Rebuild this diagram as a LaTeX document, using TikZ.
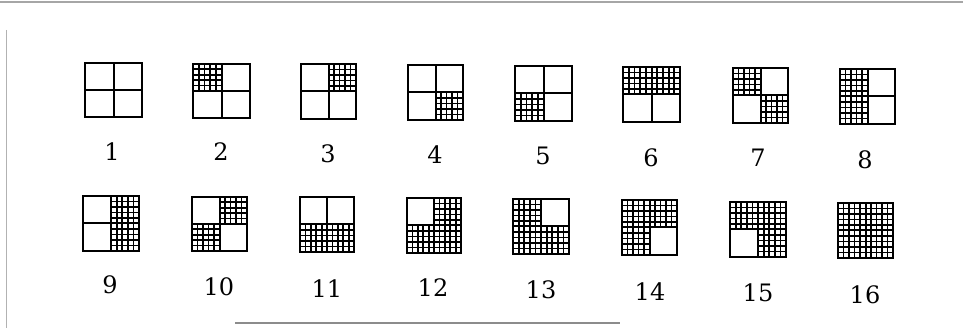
\documentclass[tikz,border=0pt]{standalone}
\usepackage{fontspec}
\newfontfamily\digitfont{DejaVu Serif}
\usepackage{tikz}
\tikzset{
  outerline/.style={line width=2pt, black},
  gridline/.style={line width=1.8pt, black},
  lbl/.style={inner sep=0pt, font=\digitfont\fontsize{24}{27}\selectfont},
  scanline/.style={line width=1.2pt, black!35}
}
\newcommand\gridq[4]{%
  \foreach \i in {1,2,3,4} {%
    \draw[gridline] ({#1+\i*#3/10},{#2}) -- ++(0,{#4/2});
    \draw[gridline] ({#1},{#2+\i*#4/10}) -- ++({#3/2},0);
  }}
\newcommand\quadbox[8]{% x y w h TL TR BL BR
  \begin{scope}[shift={(#1,#2)}]
    \ifnum#5=1 \gridq{0}{0}{#3}{#4}\fi
    \ifnum#6=1 \gridq{#3/2}{0}{#3}{#4}\fi
    \ifnum#7=1 \gridq{0}{#4/2}{#3}{#4}\fi
    \ifnum#8=1 \gridq{#3/2}{#4/2}{#3}{#4}\fi
    \draw[outerline] (0,0) rectangle (#3,#4);
    \draw[outerline] ({#3/2},0) -- ({#3/2},#4) (0,{#4/2}) -- (#3,{#4/2});
  \end{scope}}
\begin{document}
\begin{tikzpicture}[x=1pt,y=-1pt]
\useasboundingbox (0,0) rectangle (963,328);
% scan frame remnants
\draw[scanline] (0,2) -- (963,2);
\draw[line width=0.6pt, black!30] (6,30) -- (6,328);
\draw[line width=2pt, black!45] (235,323) -- (620,323);
% row 1
\quadbox{85}{63}{57}{54}{0}{0}{0}{0}
\quadbox{193}{64}{57}{54}{1}{0}{0}{0}
\quadbox{301}{64}{55}{55}{0}{1}{0}{0}
\quadbox{408}{65}{55}{55}{0}{0}{0}{1}
\quadbox{515}{66}{57}{55}{0}{0}{1}{0}
\quadbox{623}{67}{57}{55}{1}{1}{0}{0}
\quadbox{733}{68}{55}{55}{1}{0}{0}{1}
\quadbox{840}{69}{55}{55}{1}{0}{1}{0}
% row 2
\quadbox{83}{196}{56}{55}{0}{1}{0}{1}
\quadbox{192}{197}{55}{54}{0}{1}{1}{0}
\quadbox{300}{197}{54}{55}{0}{0}{1}{1}
\quadbox{407}{198}{54}{55}{0}{1}{1}{1}
\quadbox{513}{199}{56}{55}{1}{0}{1}{1}
\quadbox{622}{200}{55}{55}{1}{1}{1}{0}
\quadbox{730}{202}{56}{55}{1}{1}{0}{1}
\quadbox{838}{203}{55}{55}{1}{1}{1}{1}
% labels
\node[lbl] (l1) at (112,152) {1};
\node[lbl] (l2) at (221,152) {2};
\node[lbl] (l3) at (328,154) {3};
\node[lbl] (l4) at (435,155) {4};
\node[lbl] (l5) at (543,156) {5};
\node[lbl] (l6) at (651,158) {6};
\node[lbl] (l7) at (758,158) {7};
\node[lbl] (l8) at (865,160) {8};
\node[lbl] (l9) at (110,285) {9};
\node[lbl] (l10) at (219,287) {10};
\node[lbl] (l11) at (327,289) {11};
\node[lbl] (l12) at (433,288) {12};
\node[lbl] (l13) at (541,290) {13};
\node[lbl] (l14) at (650,292) {14};
\node[lbl] (l15) at (758,293) {15};
\node[lbl] (l16) at (865,295) {16};
\end{tikzpicture}
\end{document}
